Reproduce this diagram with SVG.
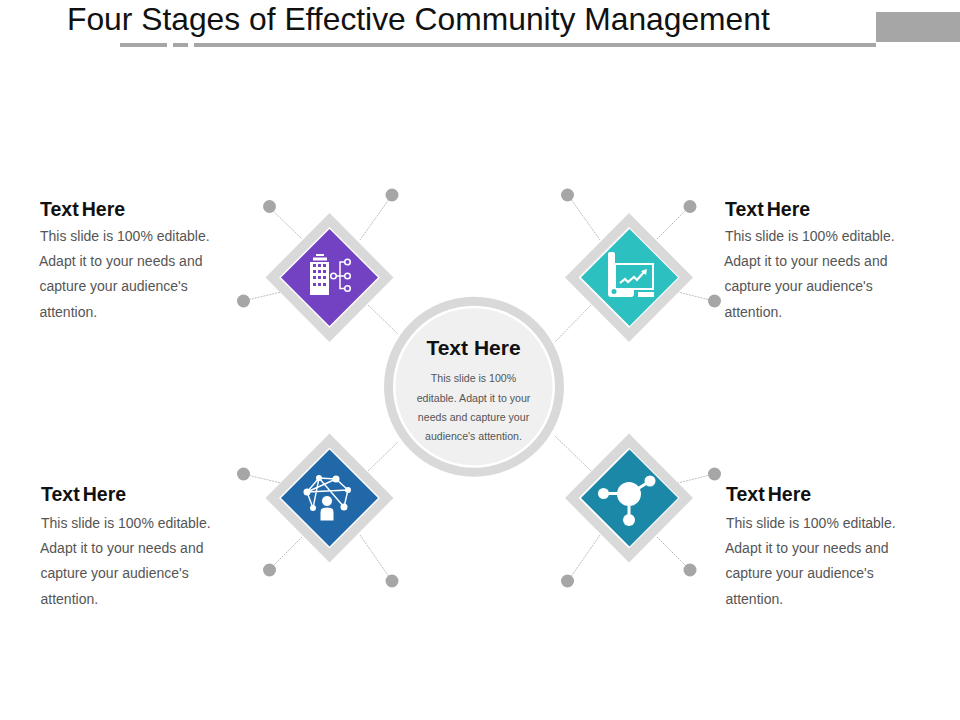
<svg xmlns="http://www.w3.org/2000/svg" width="960" height="720" viewBox="0 0 960 720">
<defs>
<style>
text{font-family:"Liberation Sans",Arial,sans-serif}
.h{font-size:19.500px;font-weight:700;fill:#111;word-spacing:-2.300px}
.b{font-size:14px;fill:#555}
.s{font-size:10.600px;fill:#555;text-anchor:middle}
.c{stroke:#b5b5b5;stroke-width:.9;stroke-dasharray:2 1;fill:none}
.d{fill:#a6a6a6}
.o{fill:#d9d9d9}
.w{fill:#fff}
.ws{stroke:#fff;fill:none}
</style>
<g id="dia"><polygon class="o" points="0,-64.500 64,0 0,64.500 -64,0"/><polygon class="w" points="0,-50.500 50.500,0 0,50.500 -50.500,0"/></g>
</defs>
<rect width="960" height="720" fill="#fff"/>
<g id="header">
<text x="67" y="30" font-size="31.800" fill="#111">Four Stages of Effective Community Management</text>
<rect x="120" y="43" width="47" height="4" fill="#a6a6a6"/>
<rect x="173" y="43" width="15" height="4" fill="#a6a6a6"/>
<rect x="194" y="43" width="682" height="4" fill="#a6a6a6"/>
<rect x="876" y="12" width="84" height="30" fill="#a6a6a6"/>
</g>
<g id="connectors">
<path class="c" d="M269 207L302 239M392 195L360 240M243 301L281 292M368 305L398 334"/>
<path class="c" d="M568 195L600 240M690 206L657 239M714 301L678 292M591 305L555 342"/>
<path class="c" d="M243 474L281 483M269 570L302 537M392 581L360 535M368 471L398 442"/>
<path class="c" d="M714 474L678 483M690 570L657 537M568 581L600 535M591 471L555 436"/>
</g>
<g id="dots">
<circle class="d" cx="269.500" cy="206.500" r="6.500"/><circle class="d" cx="392" cy="195" r="6.500"/><circle class="d" cx="243.500" cy="301" r="6.500"/>
<circle class="d" cx="567.500" cy="195" r="6.500"/><circle class="d" cx="690" cy="206.500" r="6.500"/><circle class="d" cx="714.500" cy="301" r="6.500"/>
<circle class="d" cx="243.500" cy="474" r="6.500"/><circle class="d" cx="269.500" cy="570" r="6.500"/><circle class="d" cx="392" cy="581" r="6.500"/>
<circle class="d" cx="714.500" cy="474" r="6.500"/><circle class="d" cx="690" cy="570" r="6.500"/><circle class="d" cx="567.500" cy="581" r="6.500"/>
</g>
<g id="node-center">
<circle cx="474" cy="386.700" r="90" fill="#d9d9d9"/>
<circle cx="474" cy="386.700" r="81" fill="#fff"/>
<circle cx="474" cy="386.700" r="78.500" fill="#f0f0f0"/>
<text x="473.500" y="354.500" font-size="21" font-weight="700" fill="#111" text-anchor="middle">Text Here</text>
<text class="s" x="473.500" y="381.500">This slide is 100%</text>
<text class="s" x="473.500" y="401.500">editable.  Adapt it to your</text>
<text class="s" x="473.500" y="420.500">needs and capture your</text>
<text class="s" x="473.500" y="439.500">audience's attention.</text>
</g>
<g id="node-tl">
<use href="#dia" x="329.500" y="277.500"/>
<polygon fill="#7342c2" points="329.500,229 378,277.500 329.500,326 281,277.500"/>
<rect class="w" x="310" y="262" width="19" height="33"/>
<rect class="w" x="316" y="254" width="8" height="2"/><rect class="w" x="313" y="257.500" width="14" height="3"/>
<g fill="#7342c2"><rect x="313" y="264" width="3" height="3"/><rect x="318" y="264" width="3" height="3"/><rect x="323" y="264" width="3" height="3"/><rect x="313" y="270" width="3" height="3"/><rect x="318" y="270" width="3" height="3"/><rect x="323" y="270" width="3" height="3"/><rect x="313" y="276" width="3" height="3"/><rect x="318" y="276" width="3" height="3"/><rect x="323" y="276" width="3" height="3"/><rect x="313" y="283" width="3" height="3"/><rect x="318" y="283" width="3" height="3"/><rect x="323" y="283" width="3" height="3"/></g>
<g class="ws" stroke-width="1.500"><circle cx="333.500" cy="276" r="2.800"/><circle cx="347.500" cy="262" r="2.800"/><circle cx="347.500" cy="276" r="2.800"/><circle cx="347.500" cy="288.500" r="2.800"/><path d="M336 276H345M344.700 262H340V288.500H344.700"/></g>
</g>
<g id="node-tr">
<use href="#dia" x="629" y="277.500"/>
<polygon fill="#2cc0c0" points="629.500,229 678,277.500 629.500,326 581,277.500"/>
<rect class="ws" stroke-width="2" x="615" y="264" width="38" height="25"/>
<rect class="w" x="608" y="252" width="7" height="42" rx="2"/>
<rect class="w" x="608" y="288" width="26" height="9" rx="3"/>
<rect class="w" x="638" y="292" width="16" height="5"/>
<circle cx="614" cy="291.500" r="2.500" fill="#2cc0c0"/>
<path class="ws" stroke-width="2.200" d="M620 283L625 279L628 282L634 277L637 280L644 272"/>
<polygon class="w" points="641,271 647,269 646,275"/>
</g>
<g id="node-bl">
<use href="#dia" x="329.500" y="498"/>
<polygon fill="#2068a8" points="329.500,449.500 378,498 329.500,546.500 281,498"/>
<g class="ws" stroke-width="1.400"><path d="M307 492L319 478L336 479L348 490L344 507M307 492L313 508M319 478L313 508M319 478L344 507M336 479L307 492M307 492L348 490"/></g>
<g class="w"><circle cx="307" cy="492" r="3.500"/><circle cx="319" cy="478" r="3"/><circle cx="336" cy="479" r="3.500"/><circle cx="348" cy="490" r="3"/><circle cx="313" cy="508" r="3"/><circle cx="344" cy="507" r="3.500"/></g>
<g class="w" stroke="#2068a8" stroke-width="1"><circle cx="327" cy="501" r="5.500"/><path d="M320 521v-9q0-5 7-5t7 5v9z"/></g>
</g>
<g id="node-br">
<use href="#dia" x="629" y="498"/>
<polygon fill="#1b88a8" points="629.500,449.500 678,498 629.500,546.500 581,498"/>
<path class="ws" stroke-width="3" d="M608 493.500H618M639 488L647 483M629 506V516"/>
<g class="w"><circle cx="629" cy="494" r="12"/><circle cx="603.500" cy="493.500" r="5.500"/><circle cx="650" cy="481" r="5.500"/><circle cx="629" cy="520" r="6"/></g>
</g>
<g id="text-tl">
<text class="h" x="40" y="215.500">Text Here</text>
<text class="b" x="40" y="241">This slide is 100% editable.</text>
<text class="b" x="39" y="266">Adapt it to your needs and</text>
<text class="b" x="39.500" y="291">capture your audience's</text>
<text class="b" x="39.500" y="317">attention.</text>
</g>
<g id="text-tr">
<text class="h" x="725" y="215.500">Text Here</text>
<text class="b" x="725" y="241">This slide is 100% editable.</text>
<text class="b" x="724" y="266">Adapt it to your needs and</text>
<text class="b" x="724.500" y="291">capture your audience's</text>
<text class="b" x="724.500" y="317">attention.</text>
</g>
<g id="text-bl">
<text class="h" x="41" y="500.500">Text Here</text>
<text class="b" x="41" y="528">This slide is 100% editable.</text>
<text class="b" x="40" y="553">Adapt it to your needs and</text>
<text class="b" x="40.500" y="578">capture your audience's</text>
<text class="b" x="40.500" y="604">attention.</text>
</g>
<g id="text-br">
<text class="h" x="726" y="500.500">Text Here</text>
<text class="b" x="726" y="528">This slide is 100% editable.</text>
<text class="b" x="725" y="553">Adapt it to your needs and</text>
<text class="b" x="725.500" y="578">capture your audience's</text>
<text class="b" x="725.500" y="604">attention.</text>
</g>
</svg>
